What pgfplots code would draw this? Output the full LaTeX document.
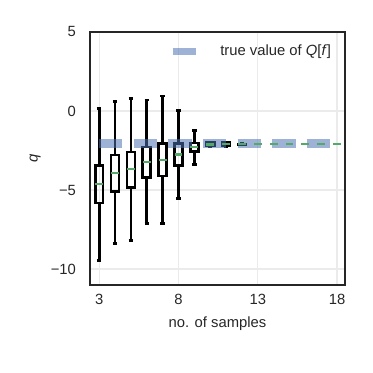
\documentclass[border=0pt]{standalone}
\usepackage{fontspec}
\setmainfont{Liberation Sans}
\usepackage{pgfplots}
\usepackage{pgfplotstable}
\pgfplotsset{compat=1.18}
\usepgfplotslibrary{statistics}

\definecolor{framec}{HTML}{262626}
\definecolor{gridc}{HTML}{EBEBEB}
\definecolor{medgreen}{HTML}{55A868}
\definecolor{trueblue}{HTML}{4C72B0}

% medians per number of samples (box half width in hw)
\pgfplotstableread{
pos med   hw
3  -4.62 0.25
4  -3.92 0.25
5  -3.67 0.25
6  -3.24 0.25
7  -3.10 0.25
8  -2.76 0.25
9  -2.27 0.25
10 -2.11 0.25
11 -2.10 0.25
12 -2.10 0.25
13 -2.10 0.25
14 -2.10 0.25
15 -2.10 0.25
16 -2.10 0.25
17 -2.10 0.25
18 -2.10 0.25
}\meddata

\pgfplotsset{boxst/.style={forget plot, black, solid, mark=none, line width=1.8pt,
  boxplot/box extend=0.5, boxplot/whisker extend=0.28,
  boxplot/every median/.style={draw=none}}}

\begin{document}
\begin{tikzpicture}
\path (-60.8pt,-59.5pt) rectangle (191.2pt,192.5pt);
\begin{axis}[
    at={(0,0)}, anchor=south west,
    scale only axis,
    width=172.3pt, height=170.9pt,
    xmin=2.42, xmax=18.5,
    ymin=-11, ymax=5,
    boxplot/draw direction=y,
    xtick={3,8,13,18},
    ytick={-10,-5,0,5},
    yticklabels={−10,−5,0,5},
    major tick length=0pt,
    grid=major,
    grid style={gridc, line width=0.9pt},
    axis line style={framec, line width=1.8pt},
    tick label style={font=\fontsize{10}{12}\selectfont, text=framec},
    /pgf/number format/assume math mode=true,
    yticklabel style={xshift=-6pt},
    xticklabel style={yshift=-3pt},
    xlabel={no. of samples},
    ylabel={\textit{q}},
    label style={font=\fontsize{10}{12}\selectfont, text=framec},
    xlabel style={at={(axis description cs:0.5,0)}, anchor=center, yshift=-26.3pt},
    ylabel style={at={(axis description cs:0,0.5)}, anchor=center, yshift=37pt},
    legend style={draw=none, fill=none, inner sep=0pt,
      at={(axis cs:7.40,3.75)}, anchor=west,
      font=\fontsize{10}{12}\selectfont, text=framec,
      /tikz/every odd column/.style={column sep=12pt}},
    legend image code/.code={%
      \draw[trueblue, opacity=0.55, line width=4.5pt] (0pt,0pt) -- (16pt,0pt);},
]
\addplot+[boxst, boxplot prepared={draw position=3, lower whisker=-9.45, lower quartile=-5.82, median=-4.62, upper quartile=-3.46, upper whisker=0.16}] coordinates {};
\addplot+[boxst, boxplot prepared={draw position=4, lower whisker=-8.37, lower quartile=-5.10, median=-3.92, upper quartile=-2.78, upper whisker=0.59}] coordinates {};
\addplot+[boxst, boxplot prepared={draw position=5, lower whisker=-8.20, lower quartile=-4.85, median=-3.67, upper quartile=-2.59, upper whisker=0.78}] coordinates {};
\addplot+[boxst, boxplot prepared={draw position=6, lower whisker=-7.12, lower quartile=-4.22, median=-3.24, upper quartile=-2.27, upper whisker=0.70}] coordinates {};
\addplot+[boxst, boxplot prepared={draw position=7, lower whisker=-7.10, lower quartile=-4.11, median=-3.10, upper quartile=-2.07, upper whisker=0.95}] coordinates {};
\addplot+[boxst, boxplot prepared={draw position=8, lower whisker=-5.52, lower quartile=-3.46, median=-2.76, upper quartile=-2.07, upper whisker=0.02}] coordinates {};
\addplot+[boxst, boxplot prepared={draw position=9, lower whisker=-3.37, lower quartile=-2.57, median=-2.27, upper quartile=-2.02, upper whisker=-1.22}] coordinates {};
\addplot+[boxst, boxplot prepared={draw position=10, lower whisker=-2.26, lower quartile=-2.22, median=-2.11, upper quartile=-1.99, upper whisker=-1.96}] coordinates {};
\addplot+[boxst, boxplot prepared={draw position=11, lower whisker=-2.24, lower quartile=-2.21, median=-2.10, upper quartile=-2.00, upper whisker=-1.97}] coordinates {};
\addplot+[boxst, boxplot prepared={draw position=12, lower whisker=-2.13, lower quartile=-2.12, median=-2.10, upper quartile=-2.08, upper whisker=-2.07}] coordinates {};

\addplot[trueblue, opacity=0.55, line width=6pt,
  dash pattern=on 15.7pt off 7.7pt] coordinates {(3,-2.08) (18,-2.08)};
\addlegendentry{true value of \textit{Q}[\textit{f}]}

\addplot[forget plot, draw=none, mark=none,
  error bars/.cd, x dir=both, x explicit, error mark=none,
  error bar style={draw=medgreen, line width=1.6pt, solid}]
  table[x=pos, y=med, x error=hw] {\meddata};
\end{axis}
\end{tikzpicture}
\end{document}
